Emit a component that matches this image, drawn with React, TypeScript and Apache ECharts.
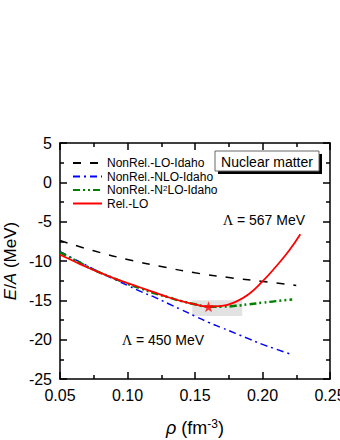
import React, { useEffect, useRef } from "react";
import * as echarts from "echarts";

const FONT = "'Liberation Sans', Arial, sans-serif";

const rhoLO = [0.05, 0.075, 0.1, 0.125, 0.15, 0.175, 0.2, 0.225];
const eLO = [-7.4, -8.7, -9.8, -10.7, -11.5, -12.1, -12.6, -13.1];

const rhoNLO = [0.05, 0.06, 0.07, 0.08, 0.09, 0.1, 0.11, 0.12, 0.13, 0.14, 0.15, 0.16, 0.17, 0.18, 0.19, 0.2, 0.21, 0.22];
const eNLO = [-8.8, -9.7, -10.6, -11.5, -12.3, -13.1, -13.9, -14.6, -15.4, -16.2, -17.0, -17.8, -18.5, -19.2, -19.9, -20.6, -21.2, -21.8];

const rhoN2LO = [0.05, 0.06, 0.07, 0.08, 0.09, 0.1, 0.11, 0.12, 0.13, 0.14, 0.15, 0.16, 0.17, 0.18, 0.19, 0.2, 0.21, 0.222];
const eN2LO = [-8.9, -9.8, -10.7, -11.5, -12.2, -12.9, -13.5, -14.1, -14.6, -15.1, -15.5, -15.8, -15.8, -15.7, -15.5, -15.3, -15.1, -14.9];

const rhoRel = [0.05, 0.06, 0.07, 0.08, 0.09, 0.1, 0.11, 0.12, 0.13, 0.14, 0.15, 0.16, 0.17, 0.18, 0.19, 0.2, 0.21, 0.22, 0.228];
const eRel = [-9.2, -10.0, -10.8, -11.5, -12.2, -12.8, -13.4, -14.0, -14.6, -15.1, -15.5, -15.8, -15.7, -15.2, -14.2, -12.6, -10.7, -8.6, -6.6];

const satRho = [0.148, 0.185];
const satE = [-17, -15];
const starPoint = [0.16, -15.8];

const legendNames = ["NonRel.-LO-Idaho", "NonRel.-NLO-Idaho", "NonRel.-N2LO-Idaho", "Rel.-LO"];

const zip = (xs: number[], ys: number[]) => xs.map((x, i) => [x, ys[i]]);

const STAR =
  "path://M0,-10 L2.35,-3.24 L9.51,-3.09 L3.8,1.24 L5.88,8.09 L0,4 L-5.88,8.09 L-3.8,1.24 L-9.51,-3.09 L-2.35,-3.24 Z";

export default function App() {
  const ref = useRef<HTMLDivElement>(null);
  useEffect(() => {
    if (!ref.current) return;
    const chart = echarts.init(ref.current, undefined, { renderer: "svg" });
    const axisCommon = {
      axisLine: { onZero: false, lineStyle: { color: "#000", width: 1.5 } },
      axisTick: { show: true, inside: true, length: 7, lineStyle: { color: "#000", width: 1.5 } },
      minorTick: { show: true, splitNumber: 2, length: 4, lineStyle: { color: "#000", width: 1.5 } },
      splitLine: { show: false },
    };
    chart.setOption({
      animation: false,
      backgroundColor: "#fff",
      textStyle: { fontFamily: FONT },
      grid: { left: 60, right: 10, top: 143, bottom: 61, outerBoundsMode: "none", containLabel: false },
      legend: {
        orient: "vertical",
        left: 67,
        top: 152,
        itemWidth: 29,
        itemHeight: 12,
        itemGap: 1.5,
        data: legendNames,
        itemStyle: { opacity: 0, borderWidth: 0 },
        formatter: (n: string) => (n === "NonRel.-N2LO-Idaho" ? "NonRel.-N{sup|2}LO-Idaho" : n),
        textStyle: {
          fontFamily: FONT,
          fontSize: 12,
          lineHeight: 12,
          color: "#000",
          rich: {
            sup: { fontSize: 8, lineHeight: 12, verticalAlign: "top", fontFamily: FONT, color: "#000" },
          },
        },
      },
      xAxis: [
        {
          type: "value",
          min: 0.05,
          max: 0.25,
          interval: 0.05,
          ...axisCommon,
          axisLabel: {
            color: "#000",
            fontSize: 16,
            fontFamily: FONT,
            margin: 8,
            formatter: (v: number) => v.toFixed(2),
          },
        },
        {
          type: "value",
          position: "top",
          min: 0.05,
          max: 0.25,
          interval: 0.05,
          ...axisCommon,
          axisLabel: { show: false },
        },
      ],
      yAxis: [
        {
          type: "value",
          min: -25,
          max: 5,
          interval: 5,
          ...axisCommon,
          axisLabel: { color: "#000", fontSize: 16, fontFamily: FONT, margin: 8 },
        },
        {
          type: "value",
          position: "right",
          min: -25,
          max: 5,
          interval: 5,
          ...axisCommon,
          axisLabel: { show: false },
        },
      ],
      series: [
        {
          name: "saturation",
          type: "line",
          data: [],
          silent: true,
          markArea: {
            silent: true,
            itemStyle: { color: "#e2e2e2" },
            data: [[{ coord: [satRho[0], satE[0]] }, { coord: [satRho[1], satE[1]] }]],
          },
          z: 1,
        },
        {
          name: legendNames[0],
          type: "line",
          smooth: true,
          symbol: "none",
          data: zip(rhoLO, eLO),
          lineStyle: { color: "#000", width: 1.5, type: [8, 9] },
          itemStyle: { color: "#000" },
          z: 3,
        },
        {
          name: legendNames[1],
          type: "line",
          smooth: true,
          symbol: "none",
          data: zip(rhoNLO, eNLO),
          lineStyle: { color: "#0000ff", width: 1.5, type: [7, 4, 2, 4] },
          itemStyle: { color: "#0000ff" },
          z: 3,
        },
        {
          name: legendNames[2],
          type: "line",
          smooth: true,
          symbol: "none",
          data: zip(rhoN2LO, eN2LO),
          lineStyle: { color: "#008000", width: 2.5, type: [7, 3, 2, 3, 2, 3] },
          itemStyle: { color: "#008000" },
          z: 4,
        },
        {
          name: legendNames[3],
          type: "line",
          smooth: true,
          symbol: "none",
          data: zip(rhoRel, eRel),
          lineStyle: { color: "#ff0000", width: 1.8 },
          itemStyle: { color: "#ff0000" },
          z: 5,
        },
        {
          name: "star",
          type: "scatter",
          symbol: STAR,
          symbolSize: 11,
          data: [starPoint],
          itemStyle: { color: "#ff0000" },
          z: 6,
        },
      ],
      graphic: [
        { type: "rect", shape: { x: 218, y: 154, width: 104, height: 20 }, style: { fill: "#000" }, z: 10 },
        {
          type: "rect",
          shape: { x: 215, y: 151, width: 104, height: 20 },
          style: { fill: "#fff", stroke: "#666", lineWidth: 1 },
          z: 11,
        },
        {
          type: "text",
          x: 267,
          y: 161.5,
          style: {
            text: "Nuclear matter",
            fontFamily: FONT,
            fontSize: 14,
            fill: "#000",
            align: "center",
            verticalAlign: "middle",
          },
          z: 12,
        },
        {
          type: "text",
          x: 264,
          y: 220,
          style: {
            text: "{g|Λ} = 567 MeV",
            fontFamily: FONT,
            fontSize: 14,
            fill: "#000",
            align: "center",
            verticalAlign: "middle",
            rich: { g: { fontFamily: "'Liberation Serif', serif", fontSize: 14, fill: "#000" } },
          },
          z: 12,
        },
        {
          type: "text",
          x: 163,
          y: 340,
          style: {
            text: "{g|Λ} = 450 MeV",
            fontFamily: FONT,
            fontSize: 14,
            fill: "#000",
            align: "center",
            verticalAlign: "middle",
            rich: { g: { fontFamily: "'Liberation Serif', serif", fontSize: 14, fill: "#000" } },
          },
          z: 12,
        },
        {
          type: "text",
          x: 10,
          y: 261,
          rotation: Math.PI / 2,
          style: {
            text: "{i|E}/{i|A} (MeV)",
            fontFamily: FONT,
            fontSize: 17,
            fill: "#000",
            align: "center",
            verticalAlign: "middle",
            rich: { i: { fontStyle: "italic", fontFamily: FONT, fontSize: 17, fill: "#000" } },
          },
          z: 12,
        },
        {
          type: "text",
          x: 195,
          y: 428,
          style: {
            text: "{i|ρ} (fm{s|-3})",
            fontFamily: FONT,
            fontSize: 18,
            fill: "#000",
            align: "center",
            verticalAlign: "middle",
            rich: {
              i: { fontStyle: "italic", fontFamily: FONT, fontSize: 18, fill: "#000" },
              s: { fontFamily: FONT, fontSize: 12, fill: "#000", verticalAlign: "top", padding: [0, 0, 8, 0] },
            },
          },
          z: 12,
        },
      ],
    });
    return () => chart.dispose();
  }, []);
  return (
    <div
      ref={ref}
      style={{ position: "absolute", left: 0, top: 0, width: 340, height: 440 }}
    />
  );
}
